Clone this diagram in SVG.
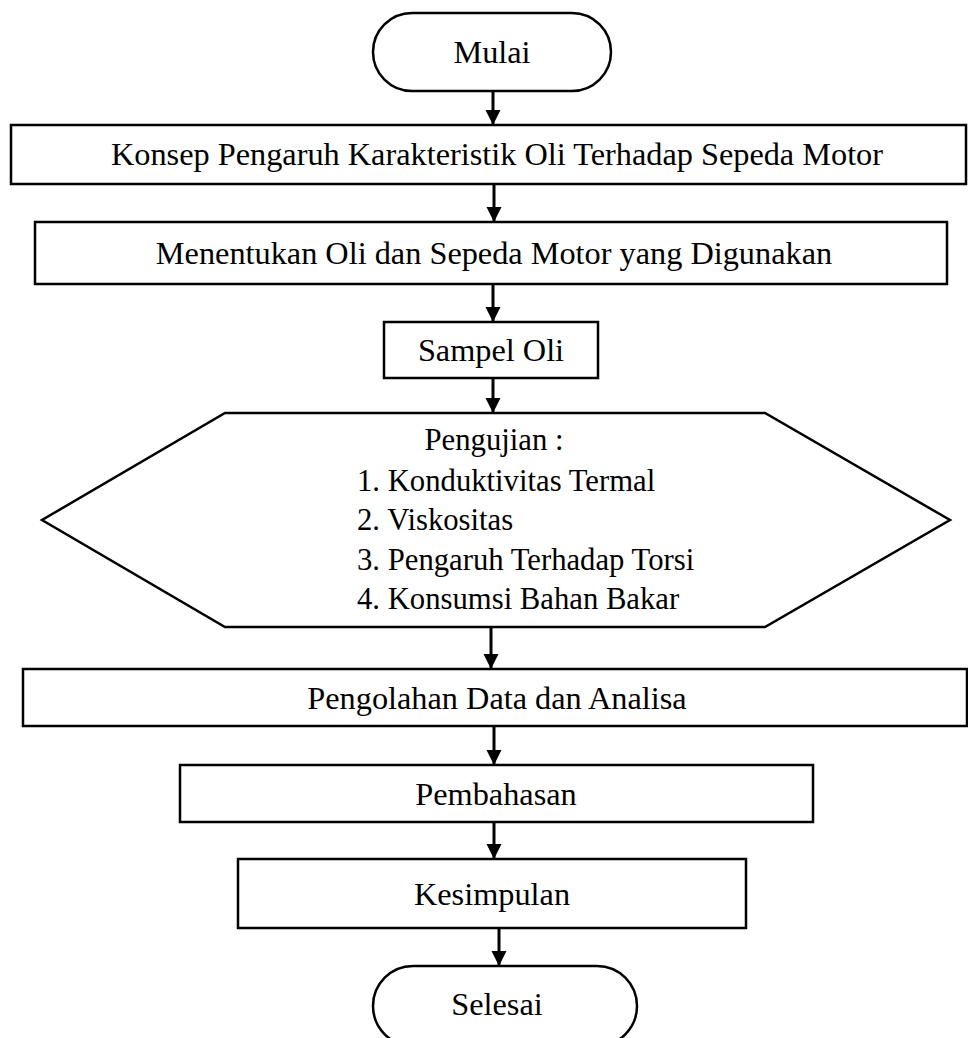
<svg xmlns="http://www.w3.org/2000/svg" width="968" height="1038" viewBox="0 0 968 1038">
<style>
.s{fill:#fff;stroke:#000;stroke-width:2.5}
.t{font-family:"Liberation Serif","Times New Roman",serif;font-size:32.3px;fill:#000}
.h{font-size:30.7px}
.c{text-anchor:middle}
.e{fill:none;stroke:#000;stroke-width:3}
</style>
<defs>
<marker id="ah" markerUnits="userSpaceOnUse" markerWidth="16" markerHeight="16" refX="15" refY="8" orient="auto">
<path d="M0,0.5 L15,8 L0,15.5 Z" fill="#000"/>
</marker>
</defs>
<g id="connectors">
<line class="e" x1="493" y1="91" x2="493" y2="125" marker-end="url(#ah)"/>
<line class="e" x1="494" y1="184" x2="494" y2="222" marker-end="url(#ah)"/>
<line class="e" x1="493" y1="284" x2="493" y2="322" marker-end="url(#ah)"/>
<line class="e" x1="493" y1="378" x2="493" y2="413" marker-end="url(#ah)"/>
<line class="e" x1="491" y1="627" x2="491" y2="669" marker-end="url(#ah)"/>
<line class="e" x1="494" y1="726" x2="494" y2="765" marker-end="url(#ah)"/>
<line class="e" x1="494" y1="822" x2="494" y2="859" marker-end="url(#ah)"/>
<line class="e" x1="499" y1="928" x2="499" y2="966" marker-end="url(#ah)"/>
</g>
<g id="mulai">
<rect class="s" x="373" y="13" width="238" height="78" rx="39" ry="39"/>
<text class="t c" x="492" y="63">Mulai</text>
</g>
<g id="konsep">
<rect class="s" x="11" y="125" width="955" height="59"/>
<text class="t c" x="497" y="165">Konsep Pengaruh Karakteristik Oli Terhadap Sepeda Motor</text>
</g>
<g id="menentukan">
<rect class="s" x="35" y="222" width="912" height="62"/>
<text class="t c" x="494" y="264">Menentukan Oli dan Sepeda Motor yang Digunakan</text>
</g>
<g id="sampel">
<rect class="s" x="384" y="322" width="214" height="56"/>
<text class="t c" x="491" y="361">Sampel Oli</text>
</g>
<g id="pengujian">
<polygon class="s" points="225,413 765,413 950,520 765,627 225,627 42,520"/>
<text class="t h c" x="494" y="450">Pengujian :</text>
<text class="t h" x="357" y="491">1. Konduktivitas Termal</text>
<text class="t h" x="357" y="530">2. Viskositas</text>
<text class="t h" x="357" y="570">3. Pengaruh Terhadap Torsi</text>
<text class="t h" x="357" y="609">4. Konsumsi Bahan Bakar</text>
</g>
<g id="pengolahan">
<rect class="s" x="23" y="669" width="944" height="57"/>
<text class="t c" x="497" y="709">Pengolahan Data dan Analisa</text>
</g>
<g id="pembahasan">
<rect class="s" x="180" y="765" width="633" height="57"/>
<text class="t c" x="496" y="805">Pembahasan</text>
</g>
<g id="kesimpulan">
<rect class="s" x="238" y="859" width="508" height="69"/>
<text class="t c" x="492" y="905">Kesimpulan</text>
</g>
<g id="selesai">
<rect class="s" x="373" y="966" width="264" height="80" rx="40" ry="40"/>
<text class="t c" x="497" y="1015">Selesai</text>
</g>
</svg>
